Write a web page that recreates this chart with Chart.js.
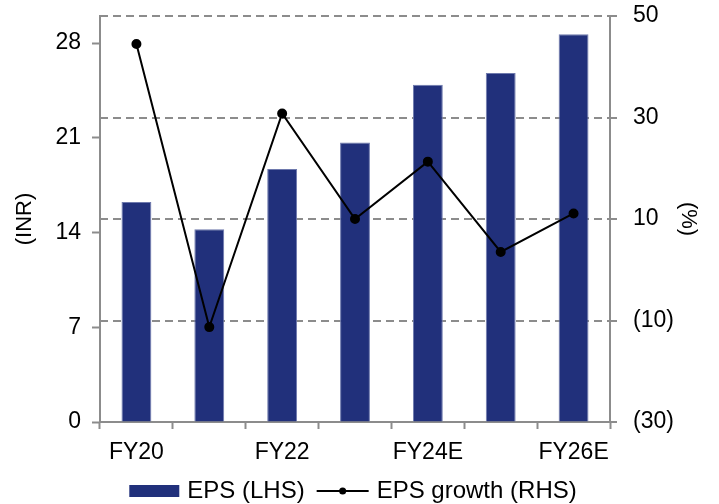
<!DOCTYPE html>
<html>
<head>
<meta charset="utf-8">
<script src="https://cdn.jsdelivr.net/npm/chart.js@4/dist/chart.umd.min.js"></script>
<style>
  html, body { margin: 0; padding: 0; background: #fff; }
  #wrap { width: 719px; height: 504px; }
</style>
</head>
<body>
<div id="wrap"><canvas id="c" width="719" height="504"></canvas></div>
<script>
// Fiscal years on the category axis
const categories = ['FY20', 'FY21', 'FY22', 'FY23', 'FY24E', 'FY25E', 'FY26E'];
// Earnings per share, INR (left axis)
const epsValues = [16.25, 14.25, 18.7, 20.66, 24.92, 25.79, 28.65];
// Year-on-year EPS growth, % (right axis)
const growthValues = [44.5, -11.3, 30.8, 10.0, 21.3, 3.5, 11.1];
// Axis tick values
const leftTicks = [0, 7, 14, 21, 28];
const rightTicks = [-30, -10, 10, 30, 50];
// Categories that carry a visible label
const labelledCategories = ['FY20', 'FY22', 'FY24E', 'FY26E'];
// Legend entries
const legendLabels = ['EPS (LHS)', 'EPS growth (RHS)'];

const NAVY = '#21307b';
const GREY = '#8c8c8c';
const FONT = 'Liberation Sans, Arial, sans-serif';
const TICK_SIZE = 23;
const TITLE_SIZE = 22;
const LEGEND_SIZE = 24;

function fmtPct(v) {
  return v < 0 ? '(' + Math.abs(v) + ')' : String(v);
}

// Legend drawn below the category axis: bar swatch, then line-with-marker swatch
const bottomLegend = {
  id: 'bottomLegend',
  afterDraw(chart) {
    const ctx = chart.ctx;
    const y = 491;
    ctx.save();
    ctx.font = LEGEND_SIZE + 'px ' + FONT;
    ctx.textBaseline = 'middle';
    ctx.fillStyle = '#000';
    const w0 = ctx.measureText(legendLabels[0]).width;
    const w1 = ctx.measureText(legendLabels[1]).width;
    const total = 50 + 8 + w0 + 12 + 52 + 8 + w1;
    let x = chart.chartArea.left + (chart.chartArea.right - chart.chartArea.left - total) / 2 - 2;
    // bar swatch
    ctx.fillStyle = NAVY;
    ctx.fillRect(x, y - 6, 50, 12);
    x += 58;
    ctx.fillStyle = '#000';
    ctx.fillText(legendLabels[0], x, y);
    x += w0 + 12;
    // line swatch
    ctx.strokeStyle = '#000';
    ctx.lineWidth = 2;
    ctx.beginPath(); ctx.moveTo(x, y); ctx.lineTo(x + 52, y); ctx.stroke();
    ctx.beginPath(); ctx.arc(x + 26, y, 3.5, 0, Math.PI * 2); ctx.fill();
    x += 60;
    ctx.fillText(legendLabels[1], x, y);
    ctx.restore();
  }
};

new Chart(document.getElementById('c'), {
  data: {
    labels: categories,
    datasets: [
      {
        type: 'bar',
        label: legendLabels[0],
        data: epsValues,
        yAxisID: 'y',
        backgroundColor: NAVY,
        borderColor: '#6e79ad',
        borderWidth: 1,
        borderSkipped: 'bottom',
        barPercentage: 0.41,
        categoryPercentage: 1.0,
        order: 1
      },
      {
        type: 'line',
        label: legendLabels[1],
        data: growthValues,
        yAxisID: 'y1',
        borderColor: '#000',
        backgroundColor: '#000',
        borderWidth: 2,
        pointRadius: 4,
        pointHoverRadius: 4,
        tension: 0,
        order: 0
      }
    ]
  },
  plugins: [bottomLegend],
  options: {
    responsive: false,
    animation: false,
    devicePixelRatio: 1,
    layout: { padding: { top: 16, left: 0, right: 0, bottom: 0 } },
    plugins: {
      tooltip: { enabled: false },
      legend: { display: false }
    },
    scales: {
      x: {
        type: 'category',
        offset: true,
        grid: {
          display: true,
          offset: true,
          drawOnChartArea: false,
          drawTicks: true,
          tickLength: 7,
          tickColor: GREY,
          tickWidth: 2
        },
        border: { display: true, color: GREY, width: 2 },
        ticks: {
          autoSkip: false,
          maxRotation: 0,
          padding: 10,
          color: '#000',
          font: { family: FONT, size: TICK_SIZE },
          callback: function (value, index) {
            const l = categories[index];
            return labelledCategories.includes(l) ? l : '';
          }
        },
        afterFit: function (s) { s.height = 82; s.paddingLeft = 0; s.paddingRight = 0; }
      },
      y: {
        type: 'linear',
        position: 'left',
        min: 0,
        max: 30,
        afterBuildTicks: function (s) { s.ticks = leftTicks.map(v => ({ value: v })); },
        grid: {
          display: true,
          drawOnChartArea: false,
          tickLength: 8,
          tickColor: GREY,
          tickWidth: 2
        },
        border: { display: true, color: GREY, width: 2 },
        ticks: {
          padding: 11,
          color: '#000',
          font: { family: FONT, size: TICK_SIZE },
          callback: v => String(v)
        },
        title: {
          display: true,
          text: '(INR)',
          color: '#000',
          font: { family: FONT, size: TITLE_SIZE },
          padding: { top: 12, bottom: 0 }
        },
        afterFit: function (s) { s.width = 100; s.paddingTop = 0; s.paddingBottom = 0; }
      },
      y1: {
        type: 'linear',
        position: 'right',
        min: -30,
        max: 50,
        afterBuildTicks: function (s) { s.ticks = rightTicks.map(v => ({ value: v })); },
        grid: {
          display: true,
          drawOnChartArea: true,
          color: GREY,
          lineWidth: 2,
          tickLength: 7,
          tickColor: GREY,
          tickWidth: 2,
          tickBorderDash: []
        },
        border: { display: true, color: GREY, width: 2, dash: [8, 5] },
        ticks: {
          padding: 16,
          color: '#000',
          font: { family: FONT, size: TICK_SIZE },
          callback: v => fmtPct(v)
        },
        title: {
          display: true,
          text: '(%)',
          color: '#000',
          font: { family: FONT, size: TITLE_SIZE },
          padding: { top: 18, bottom: 0 }
        },
        afterFit: function (s) { s.width = 109; s.paddingTop = 0; s.paddingBottom = 0; }
      }
    }
  }
});
</script>
</body>
</html>
